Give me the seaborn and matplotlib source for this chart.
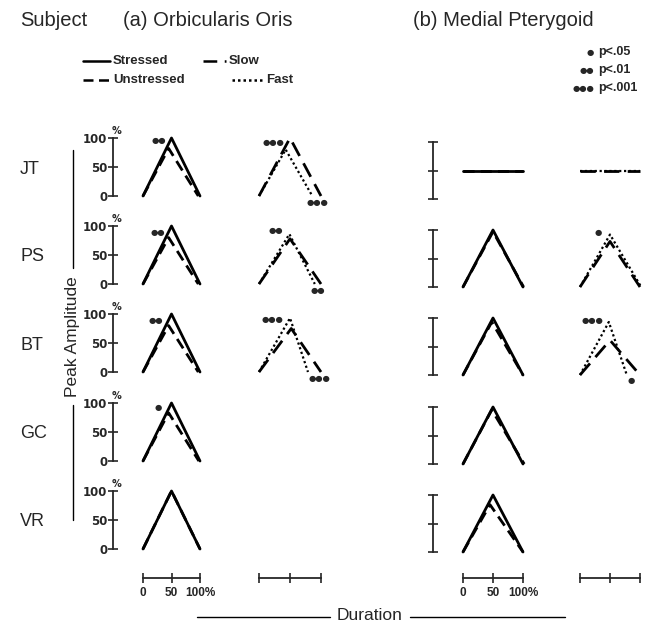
import matplotlib
matplotlib.use("Agg")
import matplotlib.pyplot as plt
from matplotlib.lines import Line2D
import seaborn as sns

sns.set_style("white")
plt.rcParams["font.family"] = ["Liberation Sans", "DejaVu Sans"]

# ---------------- data ----------------
subjects = ["JT", "PS", "BT", "GC", "VR"]
rate_subjects = ["JT", "PS", "BT"]

# Orbicularis oris: stressed vs unstressed (x = % duration, y = % peak amplitude)
oo_stressed_x = [[0, 50, 100], [0, 50, 100], [0, 50, 100], [0, 50, 100], [0, 50, 100]]
oo_stressed_y = [[0, 100, 0], [0, 100, 0], [0, 100, 0], [0, 100, 0], [0, 100, 0]]
oo_unstressed_x = [[0, 45, 97], [0, 45, 97], [0, 45, 97], [0, 45, 98], [0, 50, 100]]
oo_unstressed_y = [[0, 82, 0], [0, 80, 0], [0, 80, 0], [0, 83, 0], [0, 100, 0]]
# Orbicularis oris: slow vs fast
oo_slow_x = [[0, 50, 100], [0, 50, 100], [0, 52, 100]]
oo_slow_y = [[0, 100, 0], [0, 78, 0], [0, 75, 0]]
oo_fast_x = [[0, 43, 86], [0, 49, 90], [0, 50, 79]]
oo_fast_y = [[0, 80, 0], [0, 86, 0], [0, 93, 0]]

# Medial pterygoid: stressed vs unstressed
mp_stressed_x = [[0, 50, 100], [0, 50, 100], [0, 50, 100], [0, 50, 100], [0, 50, 100]]
mp_stressed_y = [[50, 50, 50], [0, 100, 0], [0, 100, 0], [0, 100, 0], [0, 100, 0]]
mp_unstressed_x = [[0, 50, 100], [0, 50, 101], [0, 48, 100], [0, 48, 102], [0, 45, 100]]
mp_unstressed_y = [[50, 50, 50], [0, 97, 0], [0, 93, 0], [0, 95, 0], [0, 83, 0]]
# Medial pterygoid: slow vs fast
mp_slow_x = [[0, 50, 100], [0, 50, 100], [0, 50, 100]]
mp_slow_y = [[50, 50, 50], [0, 80, 0], [0, 61, 0]]
mp_fast_x = [[0, 50, 100], [0, 50, 102], [0, 48, 78]]
mp_fast_y = [[50, 50, 50], [0, 92, 0], [0, 93, 0]]

amp_ticks = [0, 50, 100]
amp_labels = ["0", "50", "100"]
dur_ticks = [0, 50, 100]
dur_labels = ["0", "50", "100%"]

# significance marks: (subject, column, label, x, y)
sig_marks = [
    ("JT", 0, "●●", 28, 95), ("JT", 1, "●●●", 23, 93), ("JT", 1, "●●●", 94, -12),
    ("PS", 0, "●●", 26, 88), ("PS", 1, "●●", 27, 92), ("PS", 1, "●●", 95, -12),
    ("BT", 0, "●●", 23, 88), ("BT", 1, "●●●", 21, 90), ("BT", 1, "●●●", 97, -12),
    ("GC", 0, "●", 26, 93),
    ("PS", 3, "●", 30, 95), ("BT", 3, "●●●", 20, 95), ("BT", 3, "●", 85, -10),
]
sig_legend_dots = ["●", "●●", "●●●"]
sig_legend_text = ["p<.05", "p<.01", "p<.001"]

# ---------------- layout (pixels) ----------------
W, H = 646, 623
fig = plt.figure(figsize=(W / 100, H / 100), dpi=100)

col_x0 = [143, 259, 463, 580]
col_x100 = [200, 321, 523, 640]
oo_zero = [196, 284, 372, 461, 549]
mp_zero = [199, 287, 375, 464, 552]
row_h = 58

SOLID = "-"
UNSTR = (0, (4, 2.2))
SLOW = (0, (5.5, 3))
FAST = (0, (1, 1.2))
LW = 2.0
DOTFONT = dict(fontfamily="DejaVu Sans", fontsize=6)


def make_axes(col, zero_px, top_px, pad_l=50, pad_r=30, pad_b=22, pad_t=22):
    x0, x100 = col_x0[col], col_x100[col]
    sx = (x100 - x0) / 100.0
    sy = (zero_px - top_px) / 100.0
    left, right = x0 - pad_l, x100 + pad_r
    top, bottom = top_px - pad_t, zero_px + pad_b
    ax = fig.add_axes([left / W, 1 - bottom / H, (right - left) / W, (bottom - top) / H])
    ax.set_xlim((left - x0) / sx, (right - x0) / sx)
    ax.set_ylim((zero_px - bottom) / sy, (zero_px - top) / sy)
    ax.set_facecolor("none")
    for s in ax.spines.values():
        s.set_visible(False)
    ax.set_xticks([])
    ax.set_yticks([])
    return ax, sx


def draw(ax, xs, ys, ls, lw=LW):
    sns.lineplot(x=xs, y=ys, ax=ax, color="black", linestyle=ls, linewidth=lw,
                 sort=False, estimator=None)


panels = {}
for i, subj in enumerate(subjects):
    # column a: orbicularis oris stressed/unstressed
    ax, sx = make_axes(0, oo_zero[i], oo_zero[i] - row_h)
    panels[(subj, 0)] = ax
    draw(ax, oo_unstressed_x[i], oo_unstressed_y[i], UNSTR)
    draw(ax, oo_stressed_x[i], oo_stressed_y[i], SOLID)
    ax.spines["left"].set_visible(True)
    ax.spines["left"].set_position(("data", (113 - col_x0[0]) / sx))
    ax.spines["left"].set_bounds(0, 100)
    ax.spines["left"].set_linewidth(1.3)
    ax.set_yticks(amp_ticks)
    ax.set_yticklabels(amp_labels, fontfamily="DejaVu Sans", fontweight="bold", fontsize=8.5)
    ax.tick_params(axis="y", direction="inout", length=7, width=1.2, pad=0.5, left=True)
    fig.text(116 / W, 1 - (oo_zero[i] - row_h - 7) / H, "%", fontfamily="DejaVu Sans",
             fontweight="bold", fontsize=7, ha="center", va="center")

    # column b: medial pterygoid stressed/unstressed
    ax, sx = make_axes(2, mp_zero[i], mp_zero[i] - 57)
    panels[(subj, 2)] = ax
    draw(ax, mp_unstressed_x[i], mp_unstressed_y[i], UNSTR)
    draw(ax, mp_stressed_x[i], mp_stressed_y[i], SOLID)
    ax.spines["left"].set_visible(True)
    ax.spines["left"].set_position(("data", (433 - col_x0[2]) / sx))
    ax.spines["left"].set_bounds(0, 100)
    ax.spines["left"].set_linewidth(1.3)
    ax.set_yticks(amp_ticks)
    ax.set_yticklabels([])
    ax.tick_params(axis="y", direction="inout", length=7, width=1.2, left=True)

    fig.text(20 / W, 1 - (oo_zero[i] - 27) / H, subj, fontsize=13, ha="left", va="center")

for i, subj in enumerate(rate_subjects):
    ax, sx = make_axes(1, oo_zero[i], oo_zero[i] - row_h)
    panels[(subj, 1)] = ax
    draw(ax, oo_slow_x[i], oo_slow_y[i], SLOW)
    draw(ax, oo_fast_x[i], oo_fast_y[i], FAST, lw=1.6)

    ax, sx = make_axes(3, mp_zero[i], mp_zero[i] - 57, pad_r=5)
    panels[(subj, 3)] = ax
    draw(ax, mp_slow_x[i], mp_slow_y[i], SLOW)
    draw(ax, mp_fast_x[i], mp_fast_y[i], FAST, lw=1.6)

for subj, col, lab, x, y in sig_marks:
    panels[(subj, col)].text(x, y, lab, ha="center", va="center", **DOTFONT)

# duration scale bars
for col in range(4):
    x0, x100 = col_x0[col], col_x100[col]
    sx = (x100 - x0) / 100.0
    left, right = x0 - 12, x100 + (5 if col == 3 else 30)
    ax = fig.add_axes([left / W, 1 - 600 / H, (right - left) / W, 30 / H])
    ax.set_facecolor("none")
    ax.set_xlim((left - x0) / sx, (right - x0) / sx)
    ax.set_ylim(0, 1)
    for s in ax.spines.values():
        s.set_visible(False)
    ax.spines["bottom"].set_visible(True)
    ax.spines["bottom"].set_position(("axes", 22 / 30))
    ax.spines["bottom"].set_bounds(0, 100)
    ax.spines["bottom"].set_linewidth(1.3)
    ax.set_yticks([])
    ax.set_xticks(dur_ticks)
    if col in (0, 2):
        ax.set_xticklabels(dur_labels, fontfamily="Liberation Sans", fontweight="bold",
                           fontsize=8.5)
    else:
        ax.set_xticklabels([])
    ax.tick_params(axis="x", direction="inout", length=7, width=1.2, pad=3, bottom=True)

# headers
fig.text(20 / W, 1 - 21 / H, "Subject", fontsize=14.5, ha="left", va="center")
fig.text(123 / W, 1 - 21 / H, "(a) Orbicularis Oris", fontsize=14.5, ha="left", va="center")
fig.text(413 / W, 1 - 21 / H, "(b) Medial Pterygoid", fontsize=14.5, ha="left", va="center")

# line-style legend
leg_items = [
    (83, 110, 61, SOLID, "Stressed"),
    (203, 226, 61, SLOW, "Slow"),
    (83, 110, 80, UNSTR, "Unstressed"),
    (232, 263, 80, FAST, "Fast"),
]
for xa, xb, y, ls, lab in leg_items:
    fig.add_artist(Line2D([xa / W, xb / W], [1 - y / H, 1 - y / H], color="black",
                          linestyle=ls, linewidth=1.8))
    fig.text((xb + 3) / W, 1 - y / H, lab, fontsize=9.5, fontweight="bold", ha="left", va="center")

# significance legend
for k, (dots, lab) in enumerate(zip(sig_legend_dots, sig_legend_text)):
    y = 1 - (52 + 18 * k) / H
    fig.text(594 / W, y, dots, ha="right", va="center", **DOTFONT)
    fig.text(598 / W, y, lab, fontsize=9, fontweight="bold", ha="left", va="center")

# axis titles
fig.text(73 / W, 1 - 337 / H, "Peak Amplitude", fontsize=12.5, rotation=90,
         ha="center", va="center")
fig.add_artist(Line2D([73 / W, 73 / W], [1 - 150 / H, 1 - 268 / H], color="black", linewidth=1))
fig.add_artist(Line2D([73 / W, 73 / W], [1 - 405 / H, 1 - 520 / H], color="black", linewidth=1))
fig.text(370 / W, 1 - 616 / H, "Duration", fontsize=12.5, ha="center", va="center")
fig.add_artist(Line2D([197 / W, 330 / W], [1 - 617 / H, 1 - 617 / H], color="black", linewidth=1))
fig.add_artist(Line2D([410 / W, 565 / W], [1 - 617 / H, 1 - 617 / H], color="black", linewidth=1))

fig.savefig("out.png", dpi=100, facecolor="white")
